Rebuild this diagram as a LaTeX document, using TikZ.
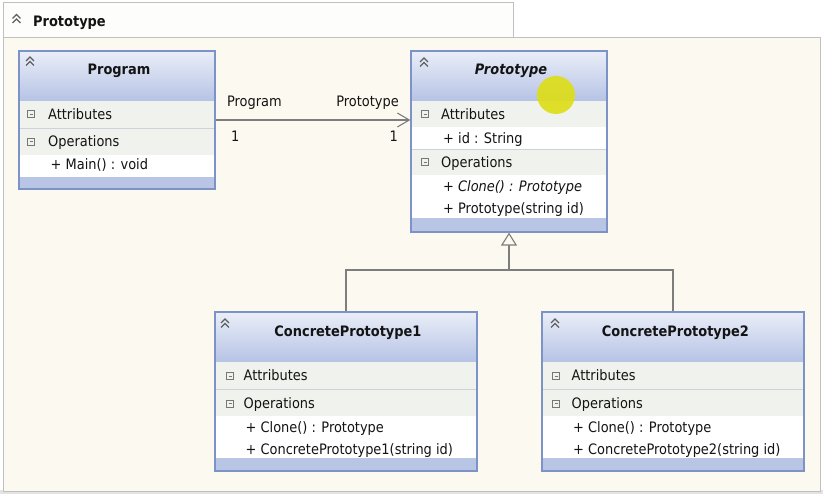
\documentclass[tikz,border=0pt]{standalone}
\usepackage{fontspec}
\setmainfont{DejaVu Sans Condensed}
\usetikzlibrary{arrows.meta}

\definecolor{framebg}{RGB}{252,249,240}
\definecolor{tabwhite}{RGB}{253,253,252}
\definecolor{framegray}{RGB}{192,192,192}
\definecolor{boxblue}{RGB}{125,147,200}
\definecolor{headtop}{RGB}{234,238,248}
\definecolor{headbot}{RGB}{182,195,229}
\definecolor{rowgray}{RGB}{240,242,237}
\definecolor{linegray}{RGB}{205,209,218}
\definecolor{footblue}{RGB}{185,197,229}
\definecolor{textdark}{RGB}{20,20,20}
\definecolor{linkgray}{RGB}{125,125,125}
\definecolor{icongray}{RGB}{95,95,95}
\definecolor{cursor}{RGB}{222,222,20}

\tikzset{
  classbox/.style={draw=boxblue, line width=1.2pt, inner sep=0pt},
  classtitle/.style={font=\fontsize{14.4}{16}\selectfont\bfseries, text=textdark, inner sep=0pt, anchor=base},
  itemtext/.style={font=\fontsize{14.4}{16}\selectfont, text=textdark, inner sep=0pt, anchor=base west},
  header/.style={top color=headtop, bottom color=headbot},
  rowhead/.style={fill=rowgray},
  footer/.style={fill=footblue},
  sepline/.style={draw=linegray, line width=0.8pt},
  chevron/.style={draw=icongray, line width=1.3pt},
  minusicon/.style={draw=icongray!85, line width=0.9pt},
  assoc/.style={draw=linkgray, line width=1.1pt, -{Straight Barb[length=12pt,width=14pt]}},
  inherit/.style={draw=linkgray, line width=1.1pt, -{Triangle[open,length=13pt,width=16pt,fill=framebg]}},
  link/.style={draw=linkgray, line width=1.1pt}
}

\begin{document}
\begin{tikzpicture}[x=1pt, y=-1pt]
\useasboundingbox (0,0) rectangle (823,494);

% Frame and its tab
\fill[gray!22] (0,490) rectangle (823,494);
\draw[framegray, fill=tabwhite] (3,2) rectangle (513,37);
\draw[framegray, fill=framebg] (3,37) rectangle (820,491);
\draw[chevron] (12.5,18.5) -- (16.5,14.5) -- (20.5,18.5) (12.5,23) -- (16.5,19) -- (20.5,23);
\node[classtitle, anchor=base west] (frametitle) at (33,26.7) {Prototype};

% Class Program
\shade[header] (19,51) rectangle (215,101);
\fill[rowhead] (19,101) rectangle (215,155);
\fill[white] (19,155) rectangle (215,177);
\fill[footer] (19,177) rectangle (215,189);
\draw[sepline] (19,128) -- (215,128);
\node[classbox, minimum width=196pt, minimum height=138pt] (program) at (117,120) {};
\draw[chevron] (26,61) -- (30,57) -- (34,61) (26,65.5) -- (30,61.5) -- (34,65.5);
\node[classtitle] (programtitle) at (119,75) {Program};
\draw[minusicon] (27.5,110.5) rectangle ++(7,7) (29.5,114) -- ++(3,0);
\draw[minusicon] (27.5,138) rectangle ++(7,7) (29.5,141.5) -- ++(3,0);
\node[itemtext] (programattr) at (48,119.3) {Attributes};
\node[itemtext] (programops) at (48,146.7) {Operations};
\node[itemtext] (programmain) at (50.5,170) {+ Main() : void};

% Class Prototype (abstract)
\shade[header] (411,51) rectangle (607,101);
\fill[rowhead] (411,101) rectangle (607,127);
\fill[white] (411,127) rectangle (607,149);
\fill[rowhead] (411,149) rectangle (607,175);
\fill[white] (411,175) rectangle (607,218);
\fill[footer] (411,218) rectangle (607,232);
\draw[sepline] (411,149) -- (607,149);
\node[classbox, minimum width=196pt, minimum height=181pt] (proto) at (509,141.5) {};
\draw[chevron] (420,62) -- (424,58) -- (428,62) (420,66.5) -- (424,62.5) -- (428,66.5);
\node[classtitle, font=\fontsize{14.4}{16}\selectfont\bfseries\itshape] (prototitle) at (511,75) {Prototype};
\draw[minusicon] (421.5,110.5) rectangle ++(7,7) (423.5,114) -- ++(3,0);
\draw[minusicon] (421.5,158.5) rectangle ++(7,7) (423.5,162) -- ++(3,0);
\node[itemtext] (protoattr) at (441,119.3) {Attributes};
\node[itemtext] (protoid) at (443,144) {+ id : String};
\node[itemtext] (protoops) at (441,167.7) {Operations};
\node[itemtext, font=\fontsize{14.4}{16}\selectfont\itshape] (protoclone) at (443,191.7) {+ Clone() : Prototype};
\node[itemtext] (protoctor) at (443,213.3) {+ Prototype(string id)};

% Class ConcretePrototype1
\shade[header] (215,312) rectangle (477,362);
\fill[rowhead] (215,362) rectangle (477,416);
\fill[white] (215,416) rectangle (477,458);
\fill[footer] (215,458) rectangle (477,471);
\draw[sepline] (215,389) -- (477,389);
\node[classbox, minimum width=262pt, minimum height=159pt] (cp1) at (346,391.5) {};
\draw[chevron] (221,323) -- (225,319) -- (229,323) (221,327.5) -- (225,323.5) -- (229,327.5);
\node[classtitle] (cp1title) at (348,336.7) {ConcretePrototype1};
\draw[minusicon] (226.5,372.5) rectangle ++(7,7) (228.5,376) -- ++(3,0);
\draw[minusicon] (226.5,400) rectangle ++(7,7) (228.5,403.5) -- ++(3,0);
\node[itemtext] (cp1attr) at (243.5,381) {Attributes};
\node[itemtext] (cp1ops) at (243.5,409) {Operations};
\node[itemtext] (cp1clone) at (245.5,432.7) {+ Clone() : Prototype};
\node[itemtext] (cp1ctor) at (245.5,454.3) {+ ConcretePrototype1(string id)};

% Class ConcretePrototype2
\shade[header] (542,312) rectangle (804,362);
\fill[rowhead] (542,362) rectangle (804,416);
\fill[white] (542,416) rectangle (804,458);
\fill[footer] (542,458) rectangle (804,471);
\draw[sepline] (542,389) -- (804,389);
\node[classbox, minimum width=262pt, minimum height=159pt] (cp2) at (673,391.5) {};
\draw[chevron] (551,323) -- (555,319) -- (559,323) (551,327.5) -- (555,323.5) -- (559,327.5);
\node[classtitle] (cp2title) at (675.5,336.7) {ConcretePrototype2};
\draw[minusicon] (552.5,372.5) rectangle ++(7,7) (554.5,376) -- ++(3,0);
\draw[minusicon] (552.5,400) rectangle ++(7,7) (554.5,403.5) -- ++(3,0);
\node[itemtext] (cp2attr) at (571.5,381) {Attributes};
\node[itemtext] (cp2ops) at (571.5,409) {Operations};
\node[itemtext] (cp2clone) at (573,432.7) {+ Clone() : Prototype};
\node[itemtext] (cp2ctor) at (573,454.3) {+ ConcretePrototype2(string id)};

% Association Program -> Prototype
\draw[assoc] (program.east) -- (program.east -| proto.west)
  node[itemtext, pos=0, xshift=11pt, yshift=13.3pt] {Program}
  node[itemtext, pos=0, xshift=15pt, yshift=-21.7pt] {1}
  node[itemtext, anchor=base east, pos=1, xshift=-11pt, yshift=13.3pt] {Prototype}
  node[itemtext, anchor=base east, pos=1, xshift=-12pt, yshift=-21.7pt] {1};

% Generalisation to Prototype
\coordinate (join) at (509,270);
\draw[link] (cp2.north) |- (join);
\draw[inherit] (cp1.north) |- (join) -- (proto.south);

% Cursor highlight
\fill[cursor, opacity=0.9] (556,95) circle[radius=19pt];

\end{tikzpicture}
\end{document}
